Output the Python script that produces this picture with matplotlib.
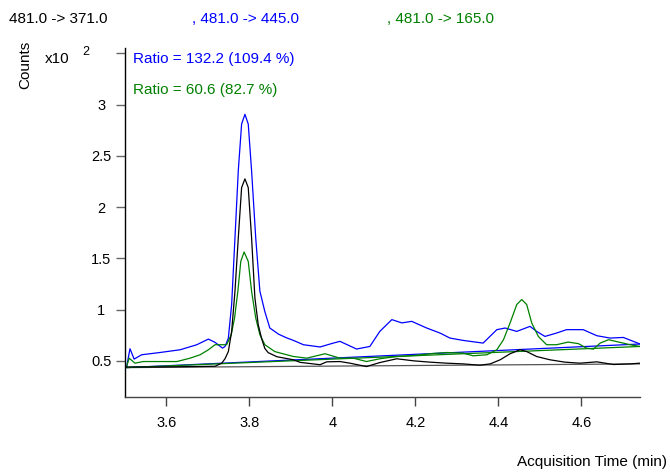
import numpy as np
import matplotlib
matplotlib.use('Agg')
import matplotlib.pyplot as plt

plt.rcParams['font.family'] = ['Liberation Sans', 'DejaVu Sans']

# acquisition time (min) and counts (x10^2)
t_blue = [3.504, 3.512, 3.522, 3.540, 3.584, 3.633, 3.673, 3.701, 3.717, 3.735, 3.741,
          3.749, 3.757, 3.765, 3.773, 3.781, 3.789, 3.797, 3.805, 3.815, 3.825, 3.837,
          3.849, 3.870, 3.890, 3.906, 3.930, 3.970, 4.002, 4.018, 4.058, 4.090, 4.114,
          4.143, 4.167, 4.191, 4.227, 4.259, 4.283, 4.315, 4.363, 4.396, 4.416, 4.444,
          4.476, 4.492, 4.512, 4.540, 4.564, 4.604, 4.637, 4.669, 4.701, 4.741]
y_blue = [0.444, 0.618, 0.517, 0.559, 0.581, 0.608, 0.657, 0.712, 0.680, 0.624, 0.640,
          0.720, 1.050, 1.700, 2.356, 2.810, 2.905, 2.810, 2.356, 1.700, 1.180, 0.980,
          0.820, 0.760, 0.723, 0.699, 0.657, 0.635, 0.673, 0.690, 0.615, 0.640, 0.787,
          0.902, 0.870, 0.885, 0.820, 0.771, 0.722, 0.699, 0.673, 0.804, 0.820, 0.787,
          0.836, 0.787, 0.738, 0.771, 0.804, 0.804, 0.745, 0.722, 0.728, 0.664]

t_black = [3.504, 3.584, 3.681, 3.717, 3.733, 3.741, 3.749, 3.757, 3.765, 3.773, 3.781,
           3.789, 3.797, 3.805, 3.813, 3.821, 3.829, 3.837, 3.845, 3.866, 3.906, 3.922,
           3.970, 3.986, 4.018, 4.042, 4.082, 4.114, 4.155, 4.195, 4.235, 4.275, 4.315,
           4.355, 4.380, 4.404, 4.428, 4.452, 4.468, 4.492, 4.524, 4.560, 4.596, 4.637,
           4.677, 4.717, 4.741]
y_black = [0.440, 0.440, 0.445, 0.447, 0.477, 0.520, 0.590, 0.787, 1.180, 1.700, 2.190,
           2.275, 2.190, 1.700, 1.115, 0.853, 0.720, 0.620, 0.580, 0.540, 0.510, 0.485,
           0.462, 0.490, 0.493, 0.477, 0.444, 0.483, 0.520, 0.500, 0.487, 0.477, 0.470,
           0.457, 0.470, 0.510, 0.569, 0.608, 0.590, 0.542, 0.510, 0.487, 0.477, 0.490,
           0.464, 0.470, 0.477]

t_green = [3.504, 3.510, 3.524, 3.544, 3.625, 3.657, 3.681, 3.701, 3.717, 3.733, 3.745,
           3.756, 3.764, 3.772, 3.779, 3.787, 3.797, 3.805, 3.815, 3.825, 3.837, 3.861,
           3.906, 3.938, 3.982, 4.018, 4.050, 4.082, 4.114, 4.155, 4.195, 4.235, 4.275,
           4.315, 4.339, 4.372, 4.396, 4.412, 4.428, 4.444, 4.456, 4.468, 4.480, 4.496,
           4.516, 4.540, 4.568, 4.593, 4.612, 4.629, 4.645, 4.665, 4.693, 4.717, 4.741]
y_green = [0.444, 0.526, 0.477, 0.493, 0.493, 0.526, 0.559, 0.608, 0.657, 0.657, 0.657,
           0.755, 0.918, 1.180, 1.470, 1.562, 1.470, 1.180, 0.918, 0.755, 0.657, 0.590,
           0.542, 0.526, 0.569, 0.526, 0.526, 0.493, 0.520, 0.542, 0.552, 0.569, 0.581,
           0.575, 0.549, 0.559, 0.608, 0.706, 0.870, 1.049, 1.098, 1.049, 0.870, 0.738,
           0.657, 0.657, 0.683, 0.667, 0.624, 0.614, 0.673, 0.706, 0.680, 0.657, 0.640]

# integration baselines (start, end)
base_t = [3.504, 4.741]
base_black = [0.434, 0.470]
base_blue = [0.434, 0.664]
base_green = [0.434, 0.640]

xticks = [3.6, 3.8, 4.0, 4.2, 4.4, 4.6]
xticklabels = ['3.6', '3.8', '4', '4.2', '4.4', '4.6']
yticks = [0.5, 1.0, 1.5, 2.0, 2.5, 3.0, 3.5]
yticklabels = ['0.5', '1', '1.5', '2', '2.5', '3', '']

BLUE = '#0000ff'
GREEN = '#008000'

fig = plt.figure(figsize=(6.7, 4.72), dpi=100)
ax = fig.add_axes([125/670, 75/472, 515/670, 349/472])

ax.plot(base_t, base_black, color='#555555', lw=0.9)
ax.plot(base_t, base_blue, color=BLUE, lw=0.9)
ax.plot(base_t, base_green, color=GREEN, lw=0.9)
ax.plot(t_blue, y_blue, color=BLUE, lw=0.9)
ax.plot(t_green, y_green, color=GREEN, lw=0.9)
ax.plot(t_black, y_black, color='black', lw=0.9)

ax.set_xlim(3.5, 4.741)
ax.set_ylim(0.147, 3.552)
ax.set_xticks(xticks)
ax.set_xticklabels(xticklabels)
ax.set_yticks(yticks)
ax.set_yticklabels(yticklabels)
for lbl in ax.get_yticklabels():
    lbl.set_horizontalalignment('center')
ax.tick_params(axis='y', length=6.5, width=1, color='#666666', pad=10.5, labelsize=10.5)
ax.tick_params(axis='x', length=6.5, width=1, color='#444444', pad=7, labelsize=10.5)
ax.spines['top'].set_visible(False)
ax.spines['right'].set_visible(False)
ax.spines['left'].set_linewidth(1)
ax.spines['bottom'].set_linewidth(1)
ax.spines['bottom'].set_color('#444444')

ax.text(133, 472-59, 'Ratio = 132.2 (109.4 %)', color=BLUE, fontsize=11,
        va='center', ha='left', transform=None)
ax.text(133, 472-90, 'Ratio = 60.6 (82.7 %)', color=GREEN, fontsize=11,
        va='center', ha='left', transform=None)

def px(x, y):
    return x/670, 1 - y/472

fig.text(*px(9, 19), '481.0 -> 371.0', color='black', fontsize=11, va='center', ha='left')
fig.text(*px(192, 19), ', 481.0 -> 445.0', color=BLUE, fontsize=11, va='center', ha='left')
fig.text(*px(387, 19), ', 481.0 -> 165.0', color=GREEN, fontsize=11, va='center', ha='left')
fig.text(*px(25, 65), 'Counts', fontsize=11, rotation=90, va='center', ha='center')
fig.text(*px(45, 59), 'x10', fontsize=11, va='center', ha='left')
fig.text(*px(82, 52), '2', fontsize=9, va='center', ha='left')
fig.text(*px(667, 462), 'Acquisition Time (min)', fontsize=11, va='center', ha='right')

fig.savefig('out.png', dpi=100)
